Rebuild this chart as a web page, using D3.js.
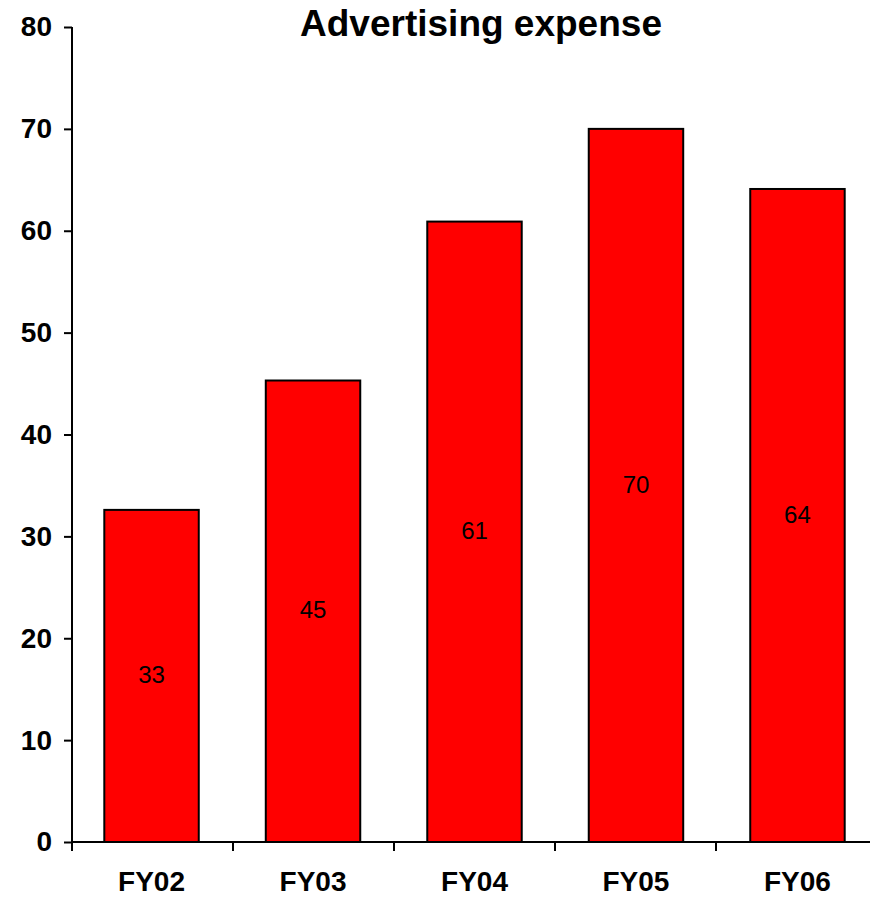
<!DOCTYPE html>
<html>
<head>
<meta charset="utf-8">
<script src="https://cdn.jsdelivr.net/npm/d3@7"></script>
<style>
  body { margin: 0; background: #fff; }
  text { font-family: "Liberation Sans", Arial, sans-serif; }
</style>
</head>
<body>
<div id="chart"></div>
<script>
// data
var categories = ["FY02", "FY03", "FY04", "FY05", "FY06"];
var values = [32.6, 45.3, 60.9, 70.0, 64.1];
var yTicks = [0, 10, 20, 30, 40, 50, 60, 70, 80];

var w = 870, h = 897;
var plotLeft = 72, plotRight = 877, plotTop = 27, plotBottom = 842;

var svg = d3.select("#chart").append("svg")
    .attr("width", w)
    .attr("height", h);

var xScale = d3.scaleBand()
    .domain(categories)
    .range([plotLeft, plotRight])
    .paddingInner(0.415)
    .paddingOuter(0.2);

var yScale = d3.scaleLinear()
    .domain([0, 80])
    .range([plotBottom, plotTop]);

// bars
svg.selectAll("rect.bar")
    .data(values)
    .enter().append("rect")
    .attr("class", "bar")
    .attr("x", function (d, i) { return xScale(categories[i]); })
    .attr("y", function (d) { return yScale(d); })
    .attr("width", xScale.bandwidth())
    .attr("height", function (d) { return yScale(0) - yScale(d); })
    .attr("fill", "#ff0000")
    .attr("stroke", "#000")
    .attr("stroke-width", 2);

// value labels in the middle of each bar
svg.selectAll("text.val")
    .data(values)
    .enter().append("text")
    .attr("class", "val")
    .attr("x", function (d, i) { return xScale(categories[i]) + xScale.bandwidth() / 2; })
    .attr("y", function (d) { return (yScale(d) + yScale(0)) / 2; })
    .attr("dy", "0.3em")
    .attr("text-anchor", "middle")
    .attr("font-size", 24)
    .text(function (d) { return d3.format(".0f")(d); });

// y axis
var yAxis = svg.append("g")
    .attr("transform", "translate(" + plotLeft + ",0)")
    .call(d3.axisLeft(yScale).tickValues(yTicks).tickSize(8).tickPadding(12));
yAxis.select(".domain").attr("stroke-width", 2).attr("d", "M0," + plotTop + "V" + plotBottom);
yAxis.selectAll(".tick line").attr("stroke-width", 2);
yAxis.selectAll(".tick text")
    .attr("font-size", 28)
    .attr("font-weight", "bold")
    .attr("fill", "#000")
    .style("font-family", "'Liberation Sans', Arial, sans-serif");

// x axis: line plus ticks at band boundaries
var xAxis = svg.append("g");
xAxis.append("line")
    .attr("x1", plotLeft).attr("x2", plotRight)
    .attr("y1", plotBottom).attr("y2", plotBottom)
    .attr("stroke", "#000").attr("stroke-width", 2);
var step = (plotRight - plotLeft) / categories.length;
var bounds = d3.range(categories.length + 1).map(function (i) { return plotLeft + i * step; });
xAxis.selectAll("line.tick")
    .data(bounds)
    .enter().append("line")
    .attr("class", "tick")
    .attr("x1", function (d) { return d; }).attr("x2", function (d) { return d; })
    .attr("y1", plotBottom).attr("y2", plotBottom + 9)
    .attr("stroke", "#000").attr("stroke-width", 2);
xAxis.selectAll("text")
    .data(categories)
    .enter().append("text")
    .attr("x", function (d) { return xScale(d) + xScale.bandwidth() / 2; })
    .attr("y", 891)
    .attr("text-anchor", "middle")
    .attr("font-size", 28)
    .attr("font-weight", "bold")
    .text(function (d) { return d; });

// title
svg.append("text")
    .attr("x", 481)
    .attr("y", 36)
    .attr("text-anchor", "middle")
    .attr("font-size", 37)
    .attr("font-weight", "bold")
    .text("Advertising expense");
</script>
</body>
</html>
